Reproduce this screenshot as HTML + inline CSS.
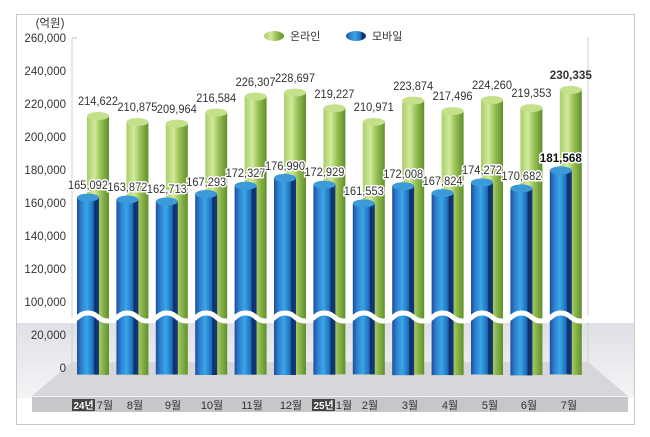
<!DOCTYPE html>
<html><head><meta charset="utf-8"><style>
html,body{margin:0;padding:0;background:#fff;}
svg{display:block;font-family:"Liberation Sans","Noto Sans CJK KR",sans-serif;}
.yl{font-size:11.5px;fill:#333;text-anchor:end;}
.vl{font-size:12px;fill:#333;text-anchor:middle;}
.mv{font-size:12px;fill:#333;text-anchor:middle;stroke:#fff;stroke-width:3px;paint-order:stroke;}
.ml{font-size:11px;fill:#333;text-anchor:middle;}
</style></head><body>
<svg width="650" height="437" viewBox="0 0 650 437" xmlns="http://www.w3.org/2000/svg">
<defs>
<linearGradient id="gg" x1="0" x2="1" y1="0" y2="0">
<stop offset="0" stop-color="#a9cf6a"/><stop offset="0.35" stop-color="#d3ea9d"/><stop offset="0.6" stop-color="#9cc45a"/><stop offset="1" stop-color="#5f8f2a"/></linearGradient>
<linearGradient id="bg" x1="0" x2="1" y1="0" y2="0">
<stop offset="0" stop-color="#1c4e9c"/><stop offset="0.2" stop-color="#2f7fcf"/><stop offset="0.45" stop-color="#3aa6e8"/><stop offset="0.75" stop-color="#1a6bb8"/><stop offset="0.8" stop-color="#0f2f6a"/><stop offset="1" stop-color="#163a78"/></linearGradient>
<linearGradient id="band" x1="0" x2="0" y1="0" y2="1">
<stop offset="0" stop-color="#dfe0e6"/><stop offset="1" stop-color="#f4f4f6"/></linearGradient>
</defs>
<rect x="16.5" y="14.5" width="618" height="410" fill="#fff" stroke="#c8c8c8"/>
<rect x="17" y="323" width="617" height="75" fill="url(#band)"/>
<polygon points="72,362 588,362 628,396 32,396" fill="#d6d6db"/>
<line x1="72" y1="38" x2="72" y2="364" stroke="#d0d0d0"/>
<line x1="588" y1="37" x2="588" y2="364" stroke="#d0d0d0"/>
<line x1="72" y1="38" x2="77" y2="38" stroke="#bbb"/>
<rect x="32" y="397" width="596" height="15" fill="#c6c6cb"/>
<g class="yl">
<text x="50" y="27" style="text-anchor:middle">(억원)</text>
<text x="66" y="42">260,000</text><text x="66" y="75">240,000</text><text x="66" y="108">220,000</text>
<text x="66" y="141">200,000</text><text x="66" y="174">180,000</text><text x="66" y="207">160,000</text>
<text x="66" y="240">140,000</text><text x="66" y="273">120,000</text><text x="66" y="306">100,000</text>
<text x="66" y="339">20,000</text><text x="66" y="372">0</text>
</g>
<ellipse cx="274" cy="36" rx="10" ry="5" fill="url(#gg)"/>
<text x="290" y="40" font-size="11" fill="#333">온라인</text>
<ellipse cx="356" cy="36" rx="10" ry="5" fill="url(#bg)"/>
<text x="372" y="40" font-size="11" fill="#333">모바일</text>

<g id="bars">
<g transform="translate(0,0)">
<rect x="87" y="115.9" width="22" height="259" fill="url(#gg)"/><ellipse cx="98" cy="116" rx="11" ry="4" fill="#c4e08a"/>
<rect x="77" y="197.6" width="22" height="177" fill="url(#bg)"/><ellipse cx="88" cy="197.6" rx="11" ry="4" fill="#3d9ad8"/>
<text class="vl" x="98" y="105" textLength="40" lengthAdjust="spacingAndGlyphs">214,622</text><text class="mv" x="88" y="189" textLength="40" lengthAdjust="spacingAndGlyphs">165,092</text></g>
<g transform="translate(39.4,0)">
<rect x="87" y="122.1" width="22" height="253" fill="url(#gg)"/><ellipse cx="98" cy="122.1" rx="11" ry="4" fill="#c4e08a"/>
<rect x="77" y="199.6" width="22" height="175" fill="url(#bg)"/><ellipse cx="88" cy="199.6" rx="11" ry="4" fill="#3d9ad8"/>
<text class="vl" x="98" y="111" textLength="40" lengthAdjust="spacingAndGlyphs">210,875</text><text class="mv" x="88" y="191" textLength="40" lengthAdjust="spacingAndGlyphs">163,872</text></g>
<g transform="translate(78.8,0)">
<rect x="87" y="123.6" width="22" height="251" fill="url(#gg)"/><ellipse cx="98" cy="123.6" rx="11" ry="4" fill="#c4e08a"/>
<rect x="77" y="201.5" width="22" height="173" fill="url(#bg)"/><ellipse cx="88" cy="201.5" rx="11" ry="4" fill="#3d9ad8"/>
<text class="vl" x="98" y="113" textLength="40" lengthAdjust="spacingAndGlyphs">209,964</text><text class="mv" x="88" y="193" textLength="40" lengthAdjust="spacingAndGlyphs">162,713</text></g>
<g transform="translate(118.2,0)">
<rect x="87" y="112.6" width="22" height="262" fill="url(#gg)"/><ellipse cx="98" cy="112.6" rx="11" ry="4" fill="#c4e08a"/>
<rect x="77" y="194" width="22" height="181" fill="url(#bg)"/><ellipse cx="88" cy="194" rx="11" ry="4" fill="#3d9ad8"/>
<text class="vl" x="98" y="102" textLength="40" lengthAdjust="spacingAndGlyphs">216,584</text><text class="mv" x="88" y="186" textLength="40" lengthAdjust="spacingAndGlyphs">167,293</text></g>
<g transform="translate(157.6,0)">
<rect x="87" y="96.6" width="22" height="278" fill="url(#gg)"/><ellipse cx="98" cy="96.6" rx="11" ry="4" fill="#c4e08a"/>
<rect x="77" y="185.7" width="22" height="189" fill="url(#bg)"/><ellipse cx="88" cy="185.7" rx="11" ry="4" fill="#3d9ad8"/>
<text class="vl" x="98" y="86" textLength="40" lengthAdjust="spacingAndGlyphs">226,307</text><text class="mv" x="88" y="177" textLength="40" lengthAdjust="spacingAndGlyphs">172,327</text></g>
<g transform="translate(197,0)">
<rect x="87" y="92.6" width="22" height="282" fill="url(#gg)"/><ellipse cx="98" cy="92.6" rx="11" ry="4" fill="#c4e08a"/>
<rect x="77" y="178" width="22" height="197" fill="url(#bg)"/><ellipse cx="88" cy="178" rx="11" ry="4" fill="#3d9ad8"/>
<text class="vl" x="98" y="82" textLength="40" lengthAdjust="spacingAndGlyphs">228,697</text><text class="mv" x="88" y="170" textLength="40" lengthAdjust="spacingAndGlyphs">176,990</text></g>
<g transform="translate(236.4,0)">
<rect x="87" y="108.3" width="22" height="266" fill="url(#gg)"/><ellipse cx="98" cy="108.3" rx="11" ry="4" fill="#c4e08a"/>
<rect x="77" y="184.7" width="22" height="190" fill="url(#bg)"/><ellipse cx="88" cy="184.7" rx="11" ry="4" fill="#3d9ad8"/>
<text class="vl" x="98" y="98" textLength="40" lengthAdjust="spacingAndGlyphs">219,227</text><text class="mv" x="88" y="176" textLength="40" lengthAdjust="spacingAndGlyphs">172,929</text></g>
<g transform="translate(275.8,0)">
<rect x="87" y="121.9" width="22" height="253" fill="url(#gg)"/><ellipse cx="98" cy="121.9" rx="11" ry="4" fill="#c4e08a"/>
<rect x="77" y="203.4" width="22" height="171" fill="url(#bg)"/><ellipse cx="88" cy="203.4" rx="11" ry="4" fill="#3d9ad8"/>
<text class="vl" x="98" y="111" textLength="40" lengthAdjust="spacingAndGlyphs">210,971</text><text class="mv" x="88" y="195" textLength="40" lengthAdjust="spacingAndGlyphs">161,553</text></g>
<g transform="translate(315.2,0)">
<rect x="87" y="100.6" width="22" height="274" fill="url(#gg)"/><ellipse cx="98" cy="100.6" rx="11" ry="4" fill="#c4e08a"/>
<rect x="77" y="186.2" width="22" height="189" fill="url(#bg)"/><ellipse cx="88" cy="186.2" rx="11" ry="4" fill="#3d9ad8"/>
<text class="vl" x="98" y="90" textLength="40" lengthAdjust="spacingAndGlyphs">223,874</text><text class="mv" x="88" y="178" textLength="40" lengthAdjust="spacingAndGlyphs">172,008</text></g>
<g transform="translate(354.6,0)">
<rect x="87" y="111.1" width="22" height="264" fill="url(#gg)"/><ellipse cx="98" cy="111.1" rx="11" ry="4" fill="#c4e08a"/>
<rect x="77" y="193.1" width="22" height="182" fill="url(#bg)"/><ellipse cx="88" cy="193.1" rx="11" ry="4" fill="#3d9ad8"/>
<text class="vl" x="98" y="100" textLength="40" lengthAdjust="spacingAndGlyphs">217,496</text><text class="mv" x="88" y="185" textLength="40" lengthAdjust="spacingAndGlyphs">167,824</text></g>
<g transform="translate(394,0)">
<rect x="87" y="100" width="22" height="275" fill="url(#gg)"/><ellipse cx="98" cy="100" rx="11" ry="4" fill="#c4e08a"/>
<rect x="77" y="182.5" width="22" height="192" fill="url(#bg)"/><ellipse cx="88" cy="182.5" rx="11" ry="4" fill="#3d9ad8"/>
<text class="vl" x="98" y="89" textLength="40" lengthAdjust="spacingAndGlyphs">224,260</text><text class="mv" x="88" y="174" textLength="40" lengthAdjust="spacingAndGlyphs">174,272</text></g>
<g transform="translate(433.4,0)">
<rect x="87" y="108.1" width="22" height="267" fill="url(#gg)"/><ellipse cx="98" cy="108.1" rx="11" ry="4" fill="#c4e08a"/>
<rect x="77" y="188.4" width="22" height="187" fill="url(#bg)"/><ellipse cx="88" cy="188.4" rx="11" ry="4" fill="#3d9ad8"/>
<text class="vl" x="98" y="97" textLength="40" lengthAdjust="spacingAndGlyphs">219,353</text><text class="mv" x="88" y="180" textLength="40" lengthAdjust="spacingAndGlyphs">170,682</text></g>
<g transform="translate(472.8,0)">
<rect x="87" y="89.9" width="22" height="285" fill="url(#gg)"/><ellipse cx="98" cy="89.9" rx="11" ry="4" fill="#c4e08a"/>
<rect x="77" y="170.4" width="22" height="204" fill="url(#bg)"/><ellipse cx="88" cy="170.4" rx="11" ry="4" fill="#3d9ad8"/>
<text class="vl" x="98" y="79" font-weight="bold" fill="#111" textLength="42" lengthAdjust="spacingAndGlyphs">230,335</text><text class="mv" x="88" y="162" font-weight="bold" style="fill:#111" textLength="42" lengthAdjust="spacingAndGlyphs">181,568</text></g>
</g>
<path d="M68.3 321 C78 321 78 313 88 313 S98 321 107.7 321 S117.5 313 127.4 313 S137 321 147.1 321 S157 313 166.8 313 S176.5 321 186.5 321 S196 313 206.2 313 S216 321 225.9 321 S235.5 313 245.6 313 S255.5 321 265.3 321 S275 313 285 313 S295 321 304.7 321 S314.5 313 324.4 313 S334 321 344.1 321 S354 313 363.8 313 S373.5 321 383.5 321 S393 313 403.2 313 S413 321 422.9 321 S432.5 313 442.6 313 S452.5 321 462.3 321 S472 313 482 313 S492 321 501.7 321 S511.5 313 521.4 313 S531 321 541.1 321 S551 313 560.8 313 S570.5 321 580.5 321 S587 318 590 317" fill="none" stroke="#fff" stroke-width="5"/>
<rect x="72" y="399" width="23" height="12" fill="#444"/>
<text x="83.5" y="409" font-size="10" fill="#fff" text-anchor="middle" font-weight="bold" textLength="20" lengthAdjust="spacingAndGlyphs">24년</text>
<rect x="312" y="399" width="23" height="12" fill="#444"/>
<text x="323.5" y="409" font-size="10" fill="#fff" text-anchor="middle" font-weight="bold" textLength="20" lengthAdjust="spacingAndGlyphs">25년</text>
<g class="ml">
<text x="105" y="409">7월</text><text x="135" y="409">8월</text><text x="173" y="409">9월</text>
<text x="212" y="409">10월</text><text x="252" y="409">11월</text><text x="291" y="409">12월</text>
<text x="344" y="409">1월</text><text x="370" y="409">2월</text><text x="410" y="409">3월</text>
<text x="450" y="409">4월</text><text x="490" y="409">5월</text><text x="529" y="409">6월</text>
<text x="569" y="409">7월</text>
</g>
</svg>
</body></html>
